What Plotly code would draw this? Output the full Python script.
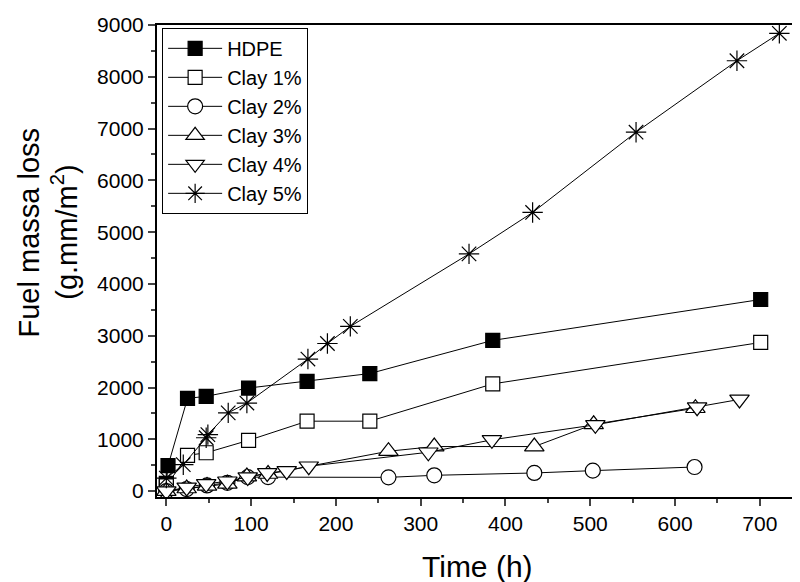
import plotly.graph_objects as go

# Data (time in h, fuel mass loss in g.mm/m^2)
hdpe_t = [0, 2, 25, 47, 97, 166, 240, 385, 701]
hdpe_v = [150, 490, 1790, 1830, 1990, 2120, 2270, 2910, 3700]

clay1_t = [0, 25, 47, 97, 166, 240, 385, 701]
clay1_v = [100, 690, 740, 980, 1350, 1350, 2070, 2870]

clay2_t = [0, 24, 48, 72, 96, 120, 262, 316, 434, 503, 623]
clay2_v = [0, 40, 110, 160, 270, 270, 265, 305, 350, 395, 465]

clay3_t = [0, 24, 48, 72, 95, 120, 262, 316, 434, 504, 624]
clay3_v = [0, 50, 100, 140, 280, 330, 770, 860, 860, 1290, 1600]

clay4_t = [0, 24, 47, 72, 96, 119, 142, 168, 309, 384, 506, 626, 676]
clay4_v = [0, 70, 140, 190, 270, 350, 390, 480, 750, 990, 1280, 1620, 1770]

clay5_t = [0, 20, 47, 49, 73, 95, 167, 190, 217, 357, 432, 554, 673, 723]
clay5_v = [250, 510, 1030, 1090, 1510, 1700, 2550, 2850, 3180, 4580, 5380, 6930, 8310, 8840]

x_ticks = [0, 100, 200, 300, 400, 500, 600, 700]
y_ticks = [0, 1000, 2000, 3000, 4000, 5000, 6000, 7000, 8000, 9000]

x_title = "Time (h)"
y_title_1 = "Fuel massa loss"
y_title_2 = "(g.mm/m<sup>2</sup>)"

series = [
    ("HDPE", hdpe_t, hdpe_v, "square", "black", 14),
    ("Clay 1%", clay1_t, clay1_v, "square", "white", 14),
    ("Clay 2%", clay2_t, clay2_v, "circle", "white", 15),
    ("Clay 3%", clay3_t, clay3_v, "triangle-up", "white", 17),
    ("Clay 4%", clay4_t, clay4_v, "triangle-down", "white", 17),
    ("Clay 5%", clay5_t, clay5_v, "asterisk-open", "black", 17),
]

fig = go.Figure()
for name, t, v, sym, fill, size in series:
    fig.add_trace(go.Scatter(
        x=t, y=v, name=name, mode="lines+markers",
        line=dict(color="black", width=1),
        marker=dict(symbol=sym, size=size, color=fill,
                    line=dict(color="black", width=1.2)),
    ))

font_family = "Arial, Liberation Sans, sans-serif"
# The page body adds an 8 px offset, so the figure is 8 px smaller each way.
fig.update_layout(
    width=792, height=574,
    margin=dict(l=149, r=2, t=17, b=85),
    paper_bgcolor="white", plot_bgcolor="white",
    font=dict(family=font_family, color="black", size=21),
    showlegend=True,
    legend=dict(
        x=0.008, y=0.994, xanchor="left", yanchor="top",
        bgcolor="white", bordercolor="black", borderwidth=1,
        font=dict(size=20, family=font_family),
        tracegroupgap=0, itemwidth=54,
    ),
    xaxis=dict(
        range=[-11, 745], automargin=False,
        tickmode="array", tickvals=x_ticks,
        ticks="outside", ticklen=7, tickwidth=1.5,
        minor=dict(dtick=50, ticks="outside", ticklen=4, tickwidth=1.5),
        showline=True, linecolor="black", linewidth=2, mirror=True,
        showgrid=False, zeroline=False,
        tickfont=dict(size=21),
    ),
    yaxis=dict(
        range=[-114, 9000], automargin=False,
        tickmode="array", tickvals=y_ticks,
        ticks="outside", ticklen=7, tickwidth=1.5,
        minor=dict(dtick=500, ticks="outside", ticklen=4, tickwidth=1.5),
        showline=True, linecolor="black", linewidth=2, mirror=True,
        showgrid=False, zeroline=False,
        tickfont=dict(size=21),
    ),
    annotations=[
        dict(text=x_title, xref="paper", yref="paper", x=0.5, y=-0.148,
             xanchor="center", yanchor="middle", showarrow=False,
             font=dict(size=30)),
        dict(text=y_title_1, xref="paper", yref="paper", x=-0.2, y=0.56,
             xanchor="center", yanchor="middle", showarrow=False,
             textangle=-90, font=dict(size=29)),
        dict(text=y_title_2, xref="paper", yref="paper", x=-0.145, y=0.56,
             xanchor="center", yanchor="middle", showarrow=False,
             textangle=-90, font=dict(size=29)),
    ],
)

fig.write_html("out.html")
